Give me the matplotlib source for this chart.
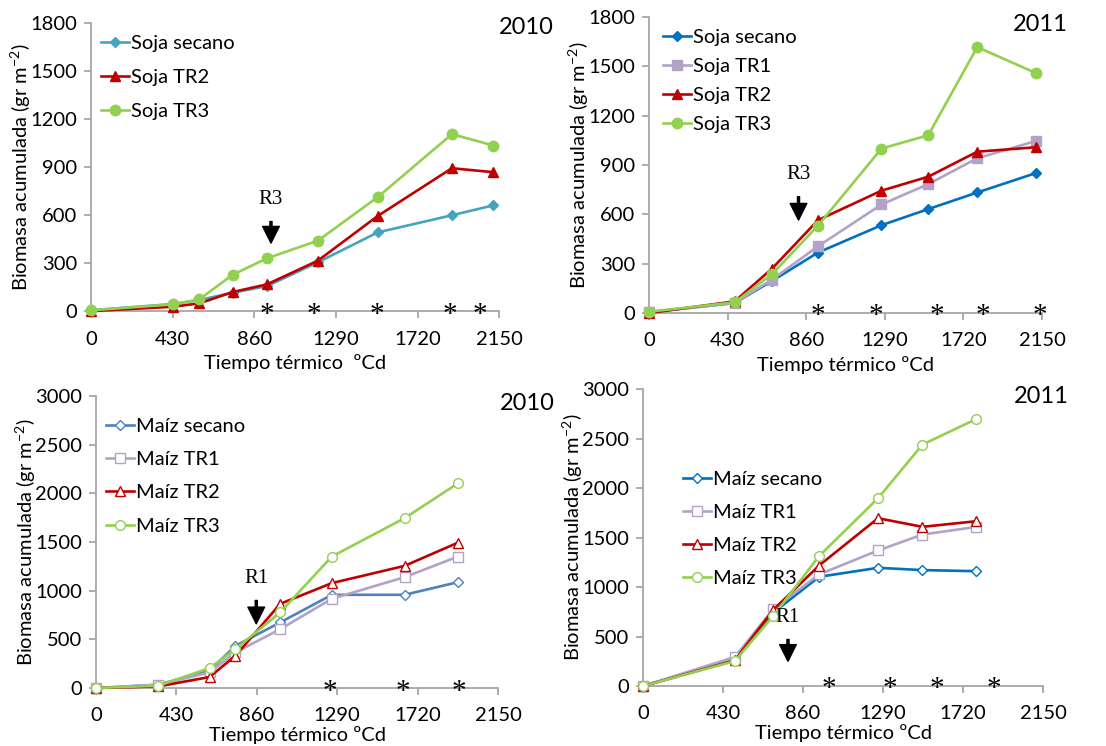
import matplotlib
matplotlib.use("Agg")
import matplotlib.pyplot as plt

plt.rcParams['font.family'] = ['Lato', 'DejaVu Sans']

# --- data ---
tt_soja_2010 = [0, 430, 570, 746, 927, 1195, 1511, 1901, 2120]
soja_secano_2010 = [5, 44, 69, 115, 156, 305, 492, 599, 661]
soja_tr2_2010 = [0, 27, 48, 119, 167, 315, 595, 893, 868]
soja_tr3_2010 = [5, 42, 73, 227, 330, 440, 713, 1106, 1035]
stars_soja_2010 = [927, 1172, 1506, 1889, 2050]

tt_soja_2011 = [0, 469, 673, 925, 1272, 1528, 1796, 2117]
soja_secano_2011 = [5, 61, 195, 368, 534, 632, 733, 851]
soja_tr1_2011 = [4, 61, 203, 406, 660, 784, 941, 1046]
soja_tr2_2011 = [0, 71, 270, 565, 744, 829, 981, 1008]
soja_tr3_2011 = [8, 65, 236, 532, 1000, 1081, 1617, 1459]
stars_soja_2011 = [922, 1241, 1577, 1829, 2139]

tt_maiz_2010 = [0, 334, 607, 746, 985, 1261, 1650, 1936]
maiz_secano_2010 = [0, 34, 178, 434, 674, 958, 958, 1088]
maiz_tr1_2010 = [0, 34, 161, 366, 605, 917, 1139, 1351]
maiz_tr2_2010 = [0, 17, 113, 332, 865, 1078, 1255, 1494]
maiz_tr3_2010 = [0, 24, 205, 400, 777, 1351, 1745, 2104]
stars_maiz_2010 = [1252, 1640, 1939]

tt_maiz_2011 = [0, 493, 699, 946, 1263, 1502, 1792]
maiz_secano_2011 = [0, 262, 740, 1103, 1194, 1171, 1160]
maiz_tr1_2011 = [0, 293, 774, 1127, 1369, 1530, 1608]
maiz_tr2_2011 = [0, 259, 767, 1217, 1695, 1608, 1665]
maiz_tr3_2011 = [0, 252, 706, 1312, 1897, 2439, 2698]
stars_maiz_2011 = [1000, 1326, 1580, 1885]

x_ticks = [0, 430, 860, 1290, 1720, 2150]

TEAL = '#46A3BE'
BLUE = '#0070C0'
STEEL = '#4F81BD'
LILAC = '#B3A2C7'
RED = '#C00000'
GREEN = '#92D050'
SPINE = '#A6A6A6'

FS = 14.5


def style_axes(ax, ymax, ystep, xlabel, xpad):
    ax.set_xlim(0, 2150)
    ax.set_ylim(0, ymax)
    ax.set_xticks(x_ticks)
    ax.set_yticks(range(0, ymax + 1, ystep))
    for s in ['top', 'right']:
        ax.spines[s].set_visible(False)
    for s in ['left', 'bottom']:
        ax.spines[s].set_color(SPINE)
        ax.spines[s].set_linewidth(1.3)
    ax.tick_params(direction='out', length=5, width=1.3, color=SPINE,
                   labelsize=FS, pad=5)
    ax.tick_params(axis='x', pad=9)
    ax.set_ylabel('Biomasa acumulada (gr m$^{\\mathregular{-2}}$)', fontsize=FS, labelpad=-2)
    ax.set_xlabel(xlabel, fontsize=FS, labelpad=xpad)


def draw_series(ax, x, y, color, marker, size, filled, label):
    face = color if filled else 'white'
    ax.plot(x, y, color=color, lw=1.9, marker=marker, ms=size,
            markerfacecolor=face, markeredgecolor=color, markeredgewidth=1.0,
            label=label, clip_on=False, zorder=3)


def draw_stars(ax, xs):
    for xs_ in xs:
        ax.annotate('*', (xs_, 0), xytext=(0, -2.5), textcoords='offset points',
                    ha='center', va='center', fontsize=21,
                    family='Liberation Serif', zorder=4, annotation_clip=False)


def draw_arrow(ax, txt, x, y_text, y_tail, y_tip):
    ax.text(x, y_text, txt, ha='center', va='center', fontsize=15,
            family='Liberation Serif')
    ax.annotate('', xy=(x, y_tip), xytext=(x, y_tail),
                arrowprops=dict(facecolor='black', edgecolor='black',
                                width=1.5, headwidth=12, headlength=12))


def add_legend(ax, loc_xy, spacing=0.85):
    ax.legend(loc='upper left', bbox_to_anchor=loc_xy, frameon=False,
              fontsize=FS, handlelength=1.4, handletextpad=0.1,
              labelspacing=spacing, borderaxespad=0, borderpad=0)


fig = plt.figure(figsize=(11.06, 7.46), dpi=100)

# top-left: soja 2010
ax1 = fig.add_axes([0.0823, 0.583, 0.369, 0.386])
draw_series(ax1, tt_soja_2010, soja_secano_2010, TEAL, 'D', 5, True, 'Soja secano')
draw_series(ax1, tt_soja_2010, soja_tr2_2010, RED, '^', 7.5, True, 'Soja TR2')
draw_series(ax1, tt_soja_2010, soja_tr3_2010, GREEN, 'o', 7.5, True, 'Soja TR3')
style_axes(ax1, 1800, 300, 'Tiempo térmico  ºCd', 5)
draw_stars(ax1, stars_soja_2010)
draw_arrow(ax1, 'R3', 948, 699, 560, 425)
add_legend(ax1, (0.025, 0.96))
ax1.text(1.135, 1.02, '2010', transform=ax1.transAxes, ha='right', va='top', fontsize=17)

# top-right: soja 2011
ax2 = fig.add_axes([0.5868, 0.5804, 0.3553, 0.3968])
draw_series(ax2, tt_soja_2011, soja_secano_2011, BLUE, 'D', 5, True, 'Soja secano')
draw_series(ax2, tt_soja_2011, soja_tr1_2011, LILAC, 's', 7, True, 'Soja TR1')
draw_series(ax2, tt_soja_2011, soja_tr2_2011, RED, '^', 7.5, True, 'Soja TR2')
draw_series(ax2, tt_soja_2011, soja_tr3_2011, GREEN, 'o', 7.5, True, 'Soja TR3')
style_axes(ax2, 1800, 300, 'Tiempo térmico ºCd', 5)
draw_stars(ax2, stars_soja_2011)
draw_arrow(ax2, 'R3', 818, 845, 707, 565)
add_legend(ax2, (0.035, 0.96), spacing=0.6)
ax2.text(1.065, 1.01, '2011', transform=ax2.transAxes, ha='right', va='top', fontsize=17)

# bottom-left: maiz 2010
ax3 = fig.add_axes([0.0868, 0.0777, 0.3635, 0.3914])
draw_series(ax3, tt_maiz_2010, maiz_secano_2010, STEEL, 'D', 5.5, False, 'Maíz secano')
draw_series(ax3, tt_maiz_2010, maiz_tr1_2010, LILAC, 's', 6.5, False, 'Maíz TR1')
draw_series(ax3, tt_maiz_2010, maiz_tr2_2010, RED, '^', 7.5, False, 'Maíz TR2')
draw_series(ax3, tt_maiz_2010, maiz_tr3_2010, GREEN, 'o', 7, False, 'Maíz TR3')
style_axes(ax3, 3000, 500, 'Tiempo térmico ºCd', 1)
draw_stars(ax3, stars_maiz_2010)
draw_arrow(ax3, 'R1', 857, 1129, 900, 660)
add_legend(ax3, (0.025, 0.925), spacing=0.8)
ax3.text(1.14, 1.01, '2010', transform=ax3.transAxes, ha='right', va='top', fontsize=17)

# bottom-right: maiz 2011
ax4 = fig.add_axes([0.5814, 0.0804, 0.3617, 0.3981])
draw_series(ax4, tt_maiz_2011, maiz_secano_2011, BLUE, 'D', 5.5, False, 'Maíz secano')
draw_series(ax4, tt_maiz_2011, maiz_tr1_2011, LILAC, 's', 6.5, False, 'Maíz TR1')
draw_series(ax4, tt_maiz_2011, maiz_tr2_2011, RED, '^', 7.5, False, 'Maíz TR2')
draw_series(ax4, tt_maiz_2011, maiz_tr3_2011, GREEN, 'o', 7, False, 'Maíz TR3')
style_axes(ax4, 3000, 500, 'Tiempo térmico ºCd', 1)
draw_stars(ax4, stars_maiz_2011)
draw_arrow(ax4, 'R1', 779, 696, 470, 250)
add_legend(ax4, (0.1, 0.725), spacing=0.8)
ax4.text(1.065, 1.01, '2011', transform=ax4.transAxes, ha='right', va='top', fontsize=17)

fig.savefig('out.png', dpi=100)
